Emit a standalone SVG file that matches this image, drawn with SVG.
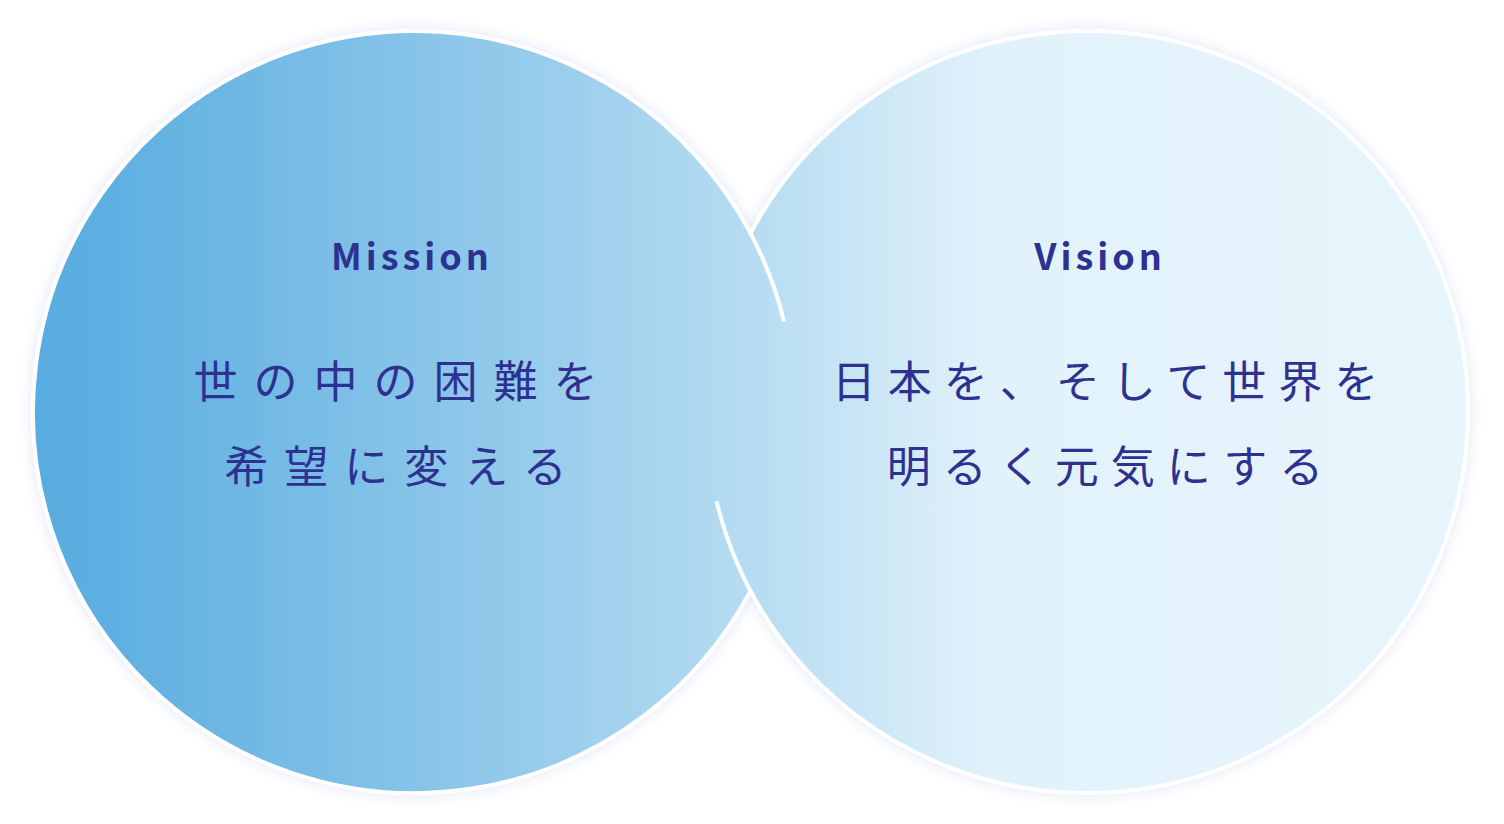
<svg xmlns="http://www.w3.org/2000/svg" width="1504" height="824" viewBox="0 0 1504 824">
  <style>
    .title { font-family: "Noto Sans CJK JP", "Noto Sans", sans-serif; font-weight: 700; font-size: 36px; fill: #2d3190; letter-spacing: 4px; text-anchor: middle; }
    .jp { font-family: "Noto Sans CJK JP", sans-serif; font-weight: 400; font-size: 44px; fill: #2d3190; text-anchor: middle; }
    .ring { fill: none; stroke: #ffffff; stroke-width: 4; stroke-linecap: round; }
  </style>
  <defs>
    <linearGradient id="bg" gradientUnits="userSpaceOnUse" x1="33" y1="0" x2="1470" y2="0">
      <stop offset="0" stop-color="#59ace0"/>
      <stop offset="0.06" stop-color="#5fb0e1"/>
      <stop offset="0.26" stop-color="#85c3e8"/>
      <stop offset="0.5" stop-color="#b6dcf1"/>
      <stop offset="0.67" stop-color="#e2f2fb"/>
      <stop offset="1" stop-color="#e7f5fc"/>
    </linearGradient>
    <filter id="glow" x="-10%" y="-10%" width="120%" height="120%">
      <feDropShadow dx="0" dy="0" stdDeviation="7" flood-color="#bcc4ea" flood-opacity="0.45"/>
    </filter>
  </defs>

  <g id="backdrop" filter="url(#glow)">
    <circle cx="414" cy="412" r="383" fill="#ffffff"/>
    <circle cx="1087" cy="412" r="383" fill="#ffffff"/>
  </g>

  <g id="vision">
    <circle cx="1087" cy="412" r="381" fill="url(#bg)"/>
  </g>
  <g id="mission">
    <circle cx="414" cy="412" r="381" fill="url(#bg)"/>
  </g>

  <g id="connectors">
    <path class="ring" d="M 783.7 320 A 381 381 0 1 0 750.5 590.7"/>
    <path class="ring" d="M 717 503 A 381 381 0 1 0 750.5 233.3"/>
  </g>

  <g id="mission-text">
    <text class="title" x="412" y="270">Mission</text>
    <text class="jp" x="403.5" y="398" letter-spacing="16">世の中の困難を</text>
    <text class="jp" x="403.5" y="483" letter-spacing="16">希望に変える</text>
  </g>
  <g id="vision-text">
    <text class="title" x="1100" y="270">Vision</text>
    <text class="jp" x="1111" y="398" letter-spacing="12">日本を、そして世界を</text>
    <text class="jp" x="1111" y="483" letter-spacing="12">明るく元気にする</text>
  </g>
</svg>
